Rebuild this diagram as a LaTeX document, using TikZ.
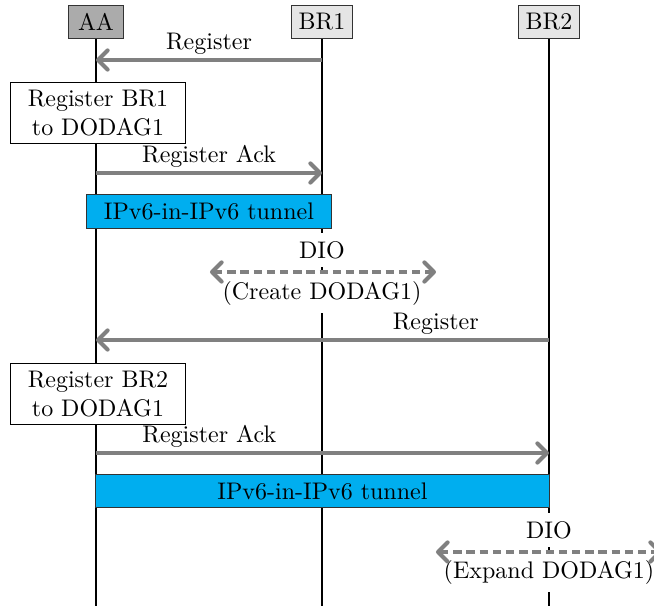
\documentclass[tikz,border=0pt]{standalone}
\usetikzlibrary{arrows.meta}

\definecolor{tunnelblue}{RGB}{0,174,239}

\tikzset{
  actor/.style={draw=black!80, minimum width=23pt, minimum height=14pt, inner sep=3pt},
  lifeline/.style={line width=0.8pt},
  msg/.style={draw=gray, line width=1.7pt, -{Straight Barb[round,length=4pt,width=8pt]}},
  bcast/.style={draw=gray, line width=1.7pt, dash pattern=on 3.5pt off 2pt,
    {Straight Barb[round,length=4pt,width=8pt]}-{Straight Barb[round,length=4pt,width=8pt]}},
  note/.style={draw, fill=white, align=center, inner xsep=7pt},
  tunnel/.style={draw=black!80, fill=tunnelblue},
  lbl/.style={fill=white},
  msglabel/.style={above=-2pt, text=black}
}

\begin{document}
\begin{tikzpicture}[x=0.4167pt,y=0.4167pt,yscale=-1]
\useasboundingbox (0,0) rectangle (654,606);

% Actors
\node [actor, fill=black!33] (aa) at (96,22) {AA};
\node [actor, fill=black!10] (br1) at (322,22) {BR1};
\node [actor, fill=black!10] (br2) at (549,22) {BR2};

% Lifelines
\coordinate (aaEnd) at (96,606);
\coordinate (br1End) at (322,606);
\coordinate (br2End) at (549,606);
\draw [lifeline] (aa) -- (aaEnd);
\draw [lifeline] (br1) -- (br1End);
\draw [lifeline] (br2) -- (br2End);

% Message points on the lifelines
\coordinate (aaReg) at (96,60);
\coordinate (br1Reg) at (322,60);
\coordinate (aaAck) at (96,173);
\coordinate (br1Ack) at (322,173);
\coordinate (aaRegB) at (96,340);
\coordinate (br2Reg) at (549,340);
\coordinate (aaAckB) at (96,453);
\coordinate (br2Ack) at (549,453);

% DIO end points
\coordinate (dioAL) at (210,272);
\coordinate (dioAR) at (436,272);
\coordinate (dioBL) at (436,552);
\coordinate (dioBR) at (662,552);

% Boxes on AA
\node [note] (regA) at (98,113) {Register BR1\\to DODAG1};
\node [note] (regB) at (98,394) {Register BR2\\to DODAG1};

% Tunnels
\node [tunnel, minimum width=101.7pt, minimum height=13.75pt] (tunA) at (209,211.5) {IPv6-in-IPv6 tunnel};
\node [tunnel, minimum width=188.8pt, minimum height=14.1pt] (tunB) at (322.5,491) {IPv6-in-IPv6 tunnel};

% DIO labels
\node [lbl] (dioA) at (322,250) {DIO};
\node [lbl] (createA) at (322,293) {(Create DODAG1)};
\node [lbl] (dioB) at (549,530) {DIO};
\node [lbl] (expandB) at (549,572) {(Expand DODAG1)};

% Messages
\draw [msg] (br1Reg) -- node [msglabel] {Register} (aaReg);
\draw [msg] (aaAck) -- node [msglabel] {Register Ack} (br1Ack);
\draw [bcast] (dioAL) -- (dioAR);
\draw [msg] (br2Reg) -- node [pos=0.25, msglabel] {Register} (aaRegB);
\draw [msg] (aaAckB) -- node [pos=0.25, msglabel] {Register Ack} (br2Ack);
\draw [bcast] (dioBL) -- (dioBR);

\end{tikzpicture}
\end{document}
